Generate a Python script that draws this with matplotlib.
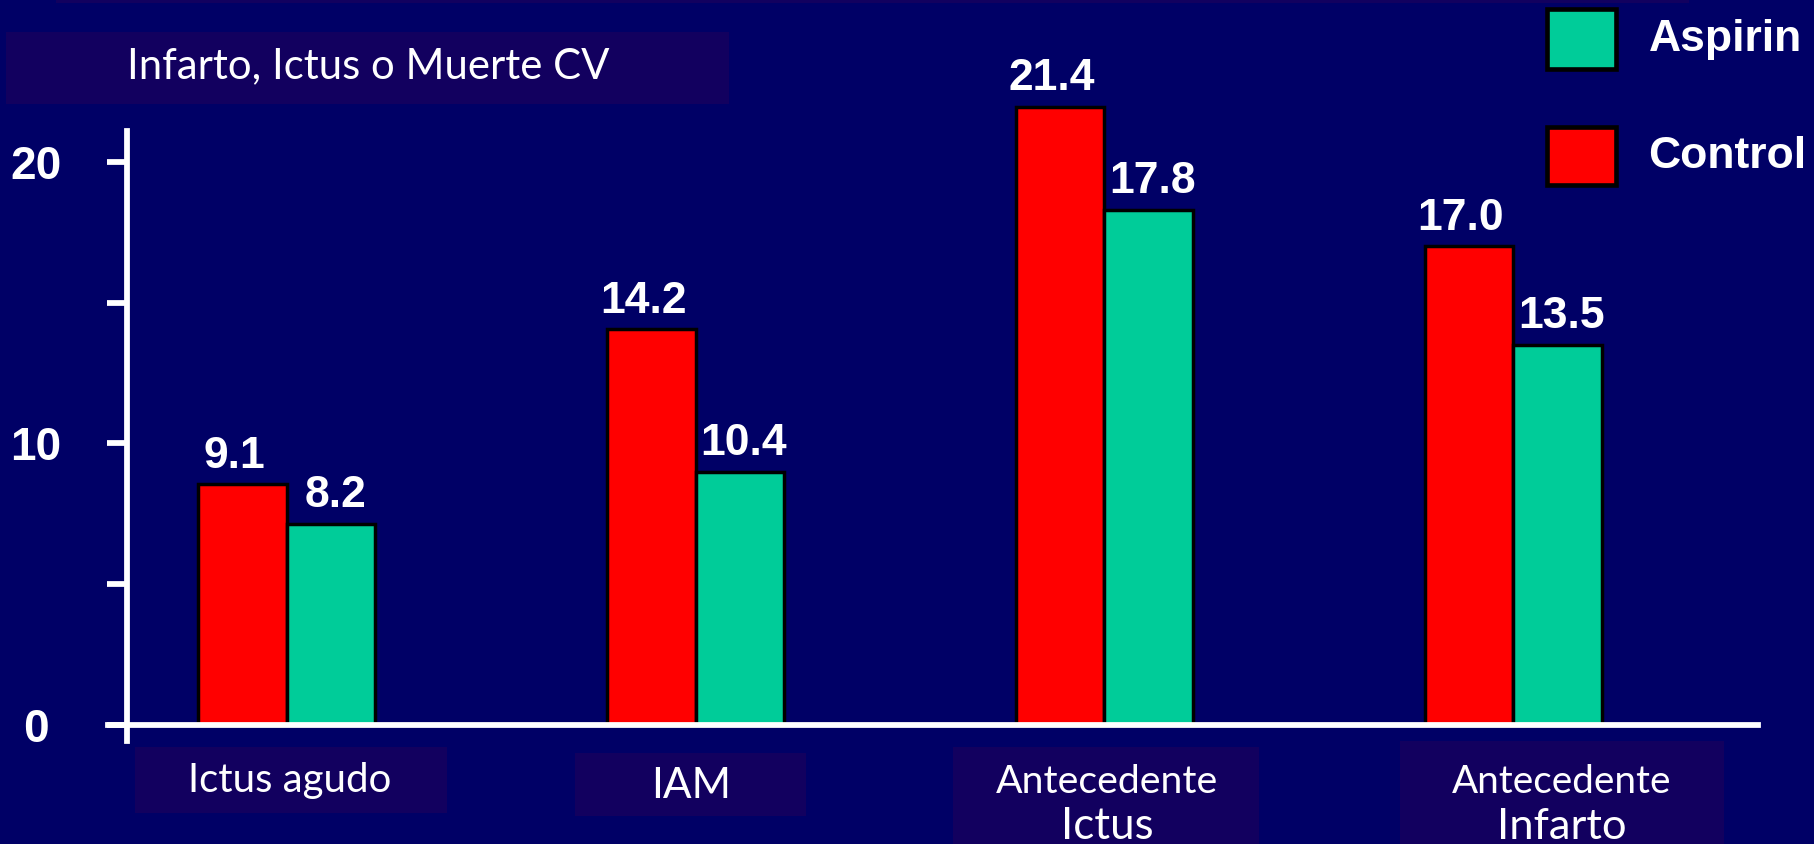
import matplotlib
matplotlib.use("Agg")
import matplotlib.pyplot as plt
from matplotlib.patches import Rectangle
from matplotlib.lines import Line2D
import numpy as np

# ---------------- data ----------------
categories = [["Ictus agudo"], ["IAM"], ["Antecedente", "Ictus"], ["Antecedente", "Infarto"]]
control_heights = [8.55, 14.05, 21.95, 17.0]      # visual bar heights (red)
aspirin_heights = [7.15, 9.0, 18.3, 13.5]         # visual bar heights (green)
control_labels = ["9.1", "14.2", "21.4", "17.0"]
aspirin_labels = ["8.2", "10.4", "17.8", "13.5"]
yticks = [0, 5, 10, 15, 20]
ytick_labels = ["0", "", "10", "", "20"]
title_text = "Infarto, Ictus o Muerte CV"
series_names = ["Aspirin", "Control"]

# ---------------- style ----------------
BG = "#000066"
BOX = "#12005f"
RED = "#ff0000"
GREEN = "#00cc99"
W, H = 1568.0, 730.0  # layout reference space


def D(x, y):
    return x / W, 1 - y / H


fig = plt.figure(figsize=(18.14, 8.44), dpi=100, facecolor=BG)
PXPT = 1814 / W * 72 / 100  # display px -> points

ax_left, ax_right, ax_top, ax_bot = 110, 1520, 115, 627
x0, y0 = D(ax_left, ax_bot)
ax = fig.add_axes([x0, y0, (ax_right - ax_left) / W, (ax_bot - ax_top) / H])
ax.set_facecolor("none")
unit = 24.35
ax.set_ylim(0, (ax_bot - ax_top) / unit)
spacing = 353.3
ax.set_xlim(-(248 - ax_left) / spacing, 3 + (ax_right - 1308) / spacing)
for s in ax.spines.values():
    s.set_visible(False)

x = np.arange(len(categories))
bw = 76.5 / spacing
ax.bar(x - bw / 2, control_heights, bw, color=RED, edgecolor="black", linewidth=3 * PXPT,
       zorder=2, clip_on=False)
ax.bar(x + bw / 2, aspirin_heights, bw, color=GREEN, edgecolor="black", linewidth=3 * PXPT,
       zorder=2, clip_on=False)

lab_font = dict(family=["Liberation Sans", "DejaVu Sans"], weight="bold", color="white", fontsize=32)
for xi, h, t in zip(x, control_heights, control_labels):
    ax.text(xi - bw / 2 - 0.02, h + 1.0, t, ha="center", va="center", clip_on=False, **lab_font)
for xi, h, t in zip(x, aspirin_heights, aspirin_labels):
    ax.text(xi + bw / 2 + 0.01, h + 1.0, t, ha="center", va="center", clip_on=False, **lab_font)

ax.set_xticks([])
ax.set_yticks(yticks)
ax.set_yticklabels(ytick_labels)
ax.tick_params(axis="y", colors="white", length=17 * PXPT, width=5 * PXPT, pad=62 * PXPT,
               labelsize=33)
for lbl in ax.get_yticklabels():
    lbl.set_fontfamily(["Liberation Sans", "DejaVu Sans"])
    lbl.set_fontweight("bold")
    lbl.set_horizontalalignment("center")

# axis lines
lw = 5 * PXPT
fig.add_artist(Line2D([D(ax_left, 0)[0]] * 2, [D(0, 113)[1], D(0, 641)[1]], color="white", lw=lw, zorder=5))
fig.add_artist(Line2D([D(93, 0)[0], D(1520, 0)[0]], [D(0, ax_bot)[1]] * 2, color="white", lw=lw, zorder=5))

# top strip
fig.add_artist(Rectangle(D(48, 3), (1460 - 48) / W, 3 / H, color=BOX, lw=0))

# boxes
def box(x1, y1, x2, y2):
    fig.add_artist(Rectangle(D(x1, y2), (x2 - x1) / W, (y2 - y1) / H, facecolor=BOX, lw=0, zorder=1))

box(5, 28, 630, 90)
boxes = [(117, 646, 386, 703), (497, 651, 697, 706), (824, 646, 1088, 732), (1210, 641, 1490, 732)]
for b in boxes:
    box(*b)

comic = ["Lato", "DejaVu Sans"]
renderer = fig.canvas.get_renderer()


def fit_text(cx, cy, s, target_w, **kw):
    t = fig.text(*D(cx, cy), s, ha="center", va="center", fontsize=20, **kw)
    bb = t.get_window_extent(renderer)
    t.set_fontsize(20 * (target_w * 1814 / W) / bb.width)
    return t


fit_text(318, 57, title_text, 417, family=comic, color="white", zorder=3)

cat_pos = [(250, [675]), (597, [680]), (957, [676, 715]), (1350, [676, 715])]
cat_widths = [[176], [69], [193, 80], [190, 112]]
for (cx, ys), lines, ws in zip(cat_pos, categories, cat_widths):
    for yy, s, ww in zip(ys, lines, ws):
        fit_text(cx, yy, s, ww, family=comic, color="white", zorder=3)

# legend
leg = [(series_names[0], GREEN, 8, 60), (series_names[1], RED, 110, 160)]
for name, col, yt, yb in leg:
    fig.add_artist(Rectangle(D(1337, yb), 60 / W, (yb - yt) / H, facecolor=col, edgecolor="black",
                             lw=4 * PXPT, zorder=3))
    fig.text(*D(1425, (yt + yb) / 2), name, ha="left", va="center", color="white", fontsize=32,
             family=["Liberation Sans", "DejaVu Sans"], weight="bold")

fig.savefig("out.png", dpi=100, facecolor=BG)
